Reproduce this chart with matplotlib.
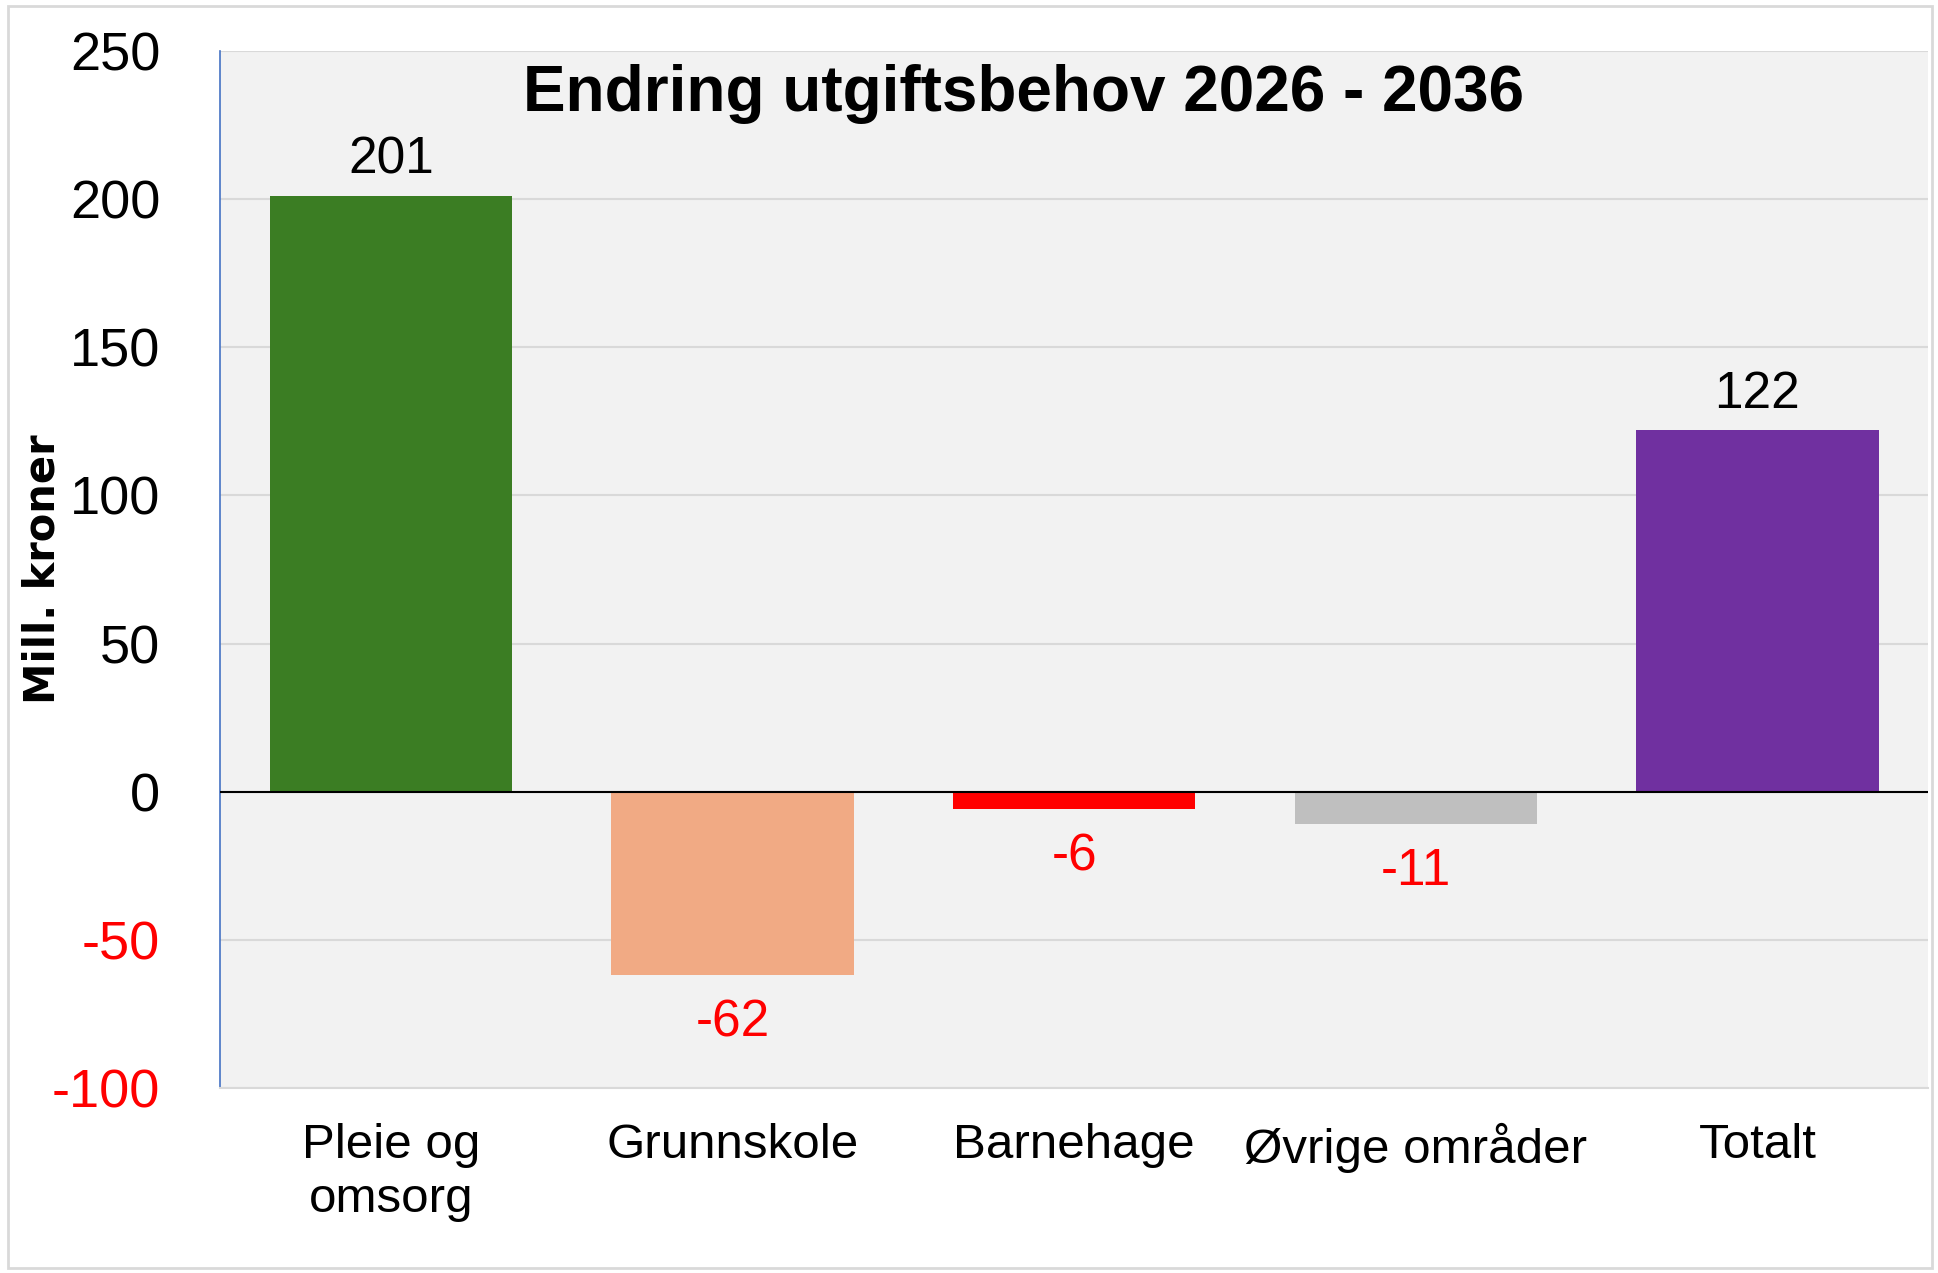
import numpy as np
import matplotlib.pyplot as plt
from matplotlib.patches import Rectangle

plt.rcParams["font.family"] = ["Liberation Sans", "DejaVu Sans"]
plt.rcParams["axes.unicode_minus"] = False

# data
categories = ["Pleie og\nomsorg", "Grunnskole", "Barnehage", "Øvrige områder", "Totalt"]
values = [201, -62, -6, -11, 122]
bar_colors = ["#3B7D23", "#F1AA84", "#FF0000", "#BFBFBF", "#7030A0"]
yticks = [-100, -50, 0, 50, 100, 150, 200, 250]

fig = plt.figure(figsize=(19.38, 12.73), dpi=100)
ax = fig.add_axes([0.1135, 0.1453, 0.8815, 0.8147])
ax.set_facecolor("#F2F2F2")

# light frame around the whole chart
fig.patches.append(Rectangle((0.004, 0.004), 0.993, 0.991, transform=fig.transFigure,
                             fill=False, edgecolor="#D9D9D9", lw=2))

x = np.arange(len(categories))
ax.bar(x, values, width=0.71, color=bar_colors, zorder=3)

ax.set_xlim(-0.5, len(categories) - 0.5)
ax.set_ylim(-100, 250)
ax.set_yticks(yticks)
ax.yaxis.grid(True, color="#D9D9D9", lw=1.5, zorder=0)
ax.axhline(0, color="black", lw=1.5, zorder=4)

for s in ["top", "right"]:
    ax.spines[s].set_visible(False)
ax.spines["bottom"].set_color("#D9D9D9")
ax.spines["bottom"].set_linewidth(1.5)
ax.spines["left"].set_color("#4472C4")
ax.spines["left"].set_linewidth(1.2)

ax.tick_params(axis="both", length=0)
ax.tick_params(axis="y", pad=43, labelsize=39)
ax.tick_params(axis="x", pad=25, labelsize=35.5)
ax.set_xticks(x)
ax.set_xticklabels(categories, linespacing=1.25)
for lab in ax.get_yticklabels():
    lab.set_horizontalalignment("right")
for t, lab in zip(yticks, ax.get_yticklabels()):
    lab.set_color("red" if t < 0 else "black")

# value labels
for xi, v in zip(x, values):
    if v >= 0:
        ax.annotate(str(v), (xi, v), xytext=(0, 26), textcoords="offset points",
                    ha="center", va="center", fontsize=37, color="black", zorder=5)
    else:
        ax.annotate(str(v), (xi, v), xytext=(0, -34), textcoords="offset points",
                    ha="center", va="center", fontsize=37, color="red", zorder=5)

fig.text(0.528, 0.926, "Endring utgiftsbehov 2026 - 2036", ha="center", va="center",
         fontsize=46, fontweight="bold")
fig.text(0.022, 0.553, "Mill. kroner", rotation=90, ha="center", va="center",
         fontsize=30, fontweight="heavy", family=["DejaVu Sans"])

fig.savefig("out.png", dpi=100)
